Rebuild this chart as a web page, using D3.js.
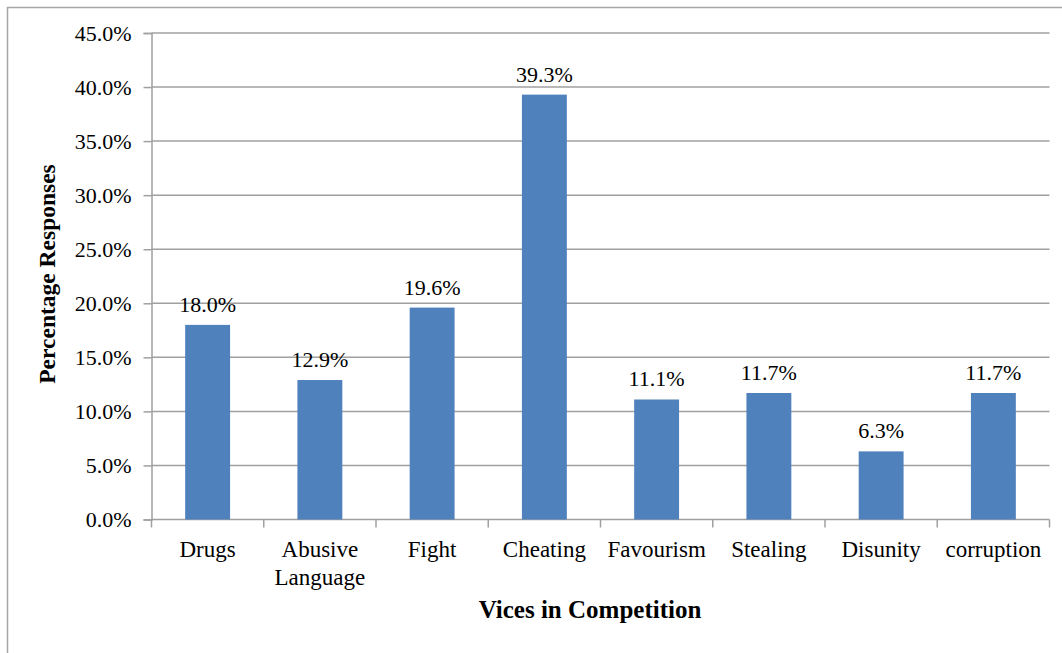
<!DOCTYPE html>
<html>
<head>
<meta charset="utf-8">
<script src="https://cdn.jsdelivr.net/npm/d3@7"></script>
<style>
  body { margin: 0; background: #fff; }
  svg { display: block; }
  text { font-family: "Liberation Serif", "Times New Roman", serif; fill: #000; }
</style>
</head>
<body>
<svg id="chart"></svg>
<script>
// data
var categories = ["Drugs", "Abusive Language", "Fight", "Cheating", "Favourism", "Stealing", "Disunity", "corruption"];
var values = [18.0, 12.9, 19.6, 39.3, 11.1, 11.7, 6.3, 11.7];
var yTicks = [0, 5, 10, 15, 20, 25, 30, 35, 40, 45];

let width = 1062, height = 653;
let margin = {left: 151.5, right: 1049.5, top: 33, bottom: 519.5};
let serif = "Liberation Serif, Times New Roman, serif";

let svg = d3.select("#chart")
    .attr("width", width)
    .attr("height", height);

// outer frame (runs off right and bottom)
svg.append("rect")
    .attr("x", 7.5).attr("y", 7.5)
    .attr("width", 1100).attr("height", 700)
    .attr("fill", "none")
    .attr("stroke", "#a6a6a6")
    .attr("stroke-width", 1.5);

let x = d3.scaleBand()
    .domain(categories)
    .range([margin.left, margin.right])
    .paddingInner(0.6)
    .paddingOuter(0.3);

let y = d3.scaleLinear()
    .domain([0, 45])
    .range([margin.bottom, margin.top]);

// gridlines
svg.append("g")
    .selectAll("line")
    .data(yTicks.filter(d => d > 0))
    .enter()
    .append("line")
    .attr("x1", margin.left).attr("x2", margin.right)
    .attr("y1", d => y(d)).attr("y2", d => y(d))
    .attr("stroke", "#a0a0a0")
    .attr("stroke-width", 1.5);

// y axis
let yAxis = svg.append("g")
    .attr("transform", "translate(" + margin.left + ",0)")
    .call(d3.axisLeft(y).tickValues(yTicks).tickSize(8).tickPadding(12)
        .tickFormat(d => d.toFixed(1) + "%"))
    .attr("font-family", serif)
    .attr("font-size", 22);

yAxis.select(".domain").attr("stroke", "#a0a0a0").attr("stroke-width", 1.5);
yAxis.selectAll(".tick line").attr("stroke", "#a0a0a0").attr("stroke-width", 1.5);
yAxis.selectAll(".tick text").attr("fill", "#000");

// x axis, ticks between categories
let xAxis = svg.append("g")
    .attr("transform", "translate(0," + margin.bottom + ")");
xAxis.append("line")
    .attr("x1", margin.left).attr("x2", margin.right)
    .attr("stroke", "#a0a0a0").attr("stroke-width", 1.5);
let step = (margin.right - margin.left) / categories.length;
xAxis.selectAll("line.tick")
    .data(d3.range(categories.length + 1))
    .enter()
    .append("line")
    .attr("class", "tick")
    .attr("x1", i => margin.left + i * step).attr("x2", i => margin.left + i * step)
    .attr("y1", 0).attr("y2", 8)
    .attr("stroke", "#a0a0a0").attr("stroke-width", 1.5);

// category labels, wrap long ones
xAxis.selectAll("text.cat")
    .data(categories)
    .enter()
    .append("text")
    .attr("class", "cat")
    .attr("x", d => x(d) + x.bandwidth() / 2)
    .attr("y", 37)
    .attr("text-anchor", "middle")
    .style("font-size", "23px")
    .each(function(d) {
        let words = d.split(" ");
        let t = d3.select(this);
        words.forEach((w, i) => {
            t.append("tspan")
                .attr("x", x(d) + x.bandwidth() / 2)
                .attr("dy", i == 0 ? 0 : 28)
                .text(w);
        });
    });

// bars
svg.append("g")
    .selectAll("rect")
    .data(values)
    .enter()
    .append("rect")
    .attr("x", (d, i) => x(categories[i]))
    .attr("width", x.bandwidth())
    .attr("y", d => y(d))
    .attr("height", d => y(0) - y(d))
    .attr("fill", "#4f81bd");

// value labels
svg.append("g")
    .selectAll("text")
    .data(values)
    .enter()
    .append("text")
    .attr("x", (d, i) => x(categories[i]) + x.bandwidth() / 2)
    .attr("y", d => y(d) - 13)
    .attr("text-anchor", "middle")
    .style("font-size", "22px")
    .text(d => d.toFixed(1) + "%");

// axis titles
svg.append("text")
    .attr("x", 590)
    .attr("y", 618)
    .attr("text-anchor", "middle")
    .style("font-size", "25px")
    .style("font-weight", "bold")
    .text("Vices in Competition");

svg.append("text")
    .attr("transform", "translate(55,274) rotate(-90)")
    .attr("text-anchor", "middle")
    .style("font-size", "23.5px")
    .style("font-weight", "bold")
    .text("Percentage Responses");
</script>
</body>
</html>
